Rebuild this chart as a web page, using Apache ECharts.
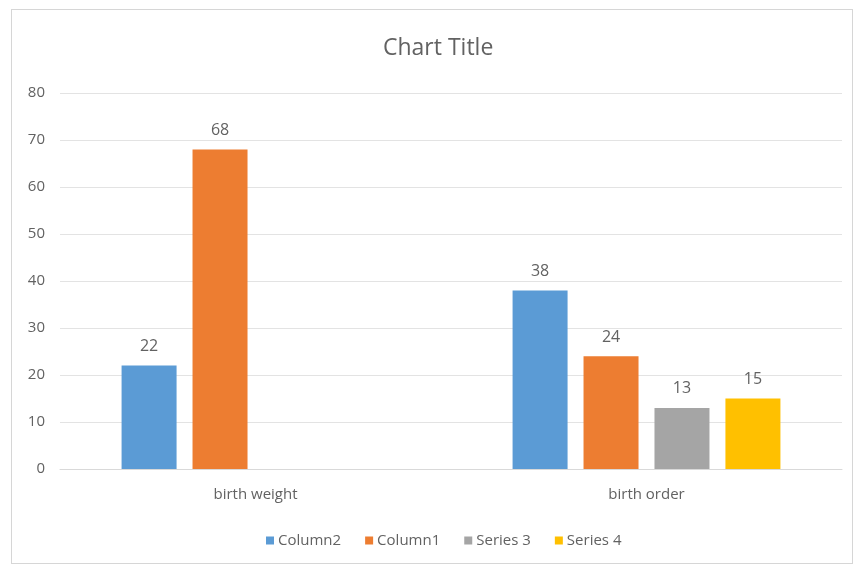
<!DOCTYPE html>
<html>
<head>
<meta charset="utf-8">
<script src="https://cdn.jsdelivr.net/npm/echarts@6/dist/echarts.min.js"></script>
<style>
  html, body { margin: 0; padding: 0; background: #ffffff; }
  #chart { position: absolute; left: 0; top: 0; width: 854px; height: 568px; }
  #frame { position: absolute; left: 11px; top: 9px; width: 840px; height: 553px;
           border: 1.5px solid #d6d6d6; pointer-events: none; }
</style>
</head>
<body>
<div id="chart"></div>
<div id="frame"></div>
<script>
// Categories and series values
const categories = ['birth weight', 'birth order'];
const seriesNames = ['Column2', 'Column1', 'Series 3', 'Series 4'];
const column2 = [22, 38];
const column1 = [68, 24];
const series3 = [null, 13];
const series4 = [null, 15];
const yTicks = { min: 0, max: 80, interval: 10 };

const palette = ['#5B9BD5', '#ED7D31', '#A5A5A5', '#FFC000'];
const valueSets = [column2, column1, series3, series4];
const font = '"Open Sans", Lato, sans-serif';
const textColor = '#626262';

const chart = echarts.init(document.getElementById('chart'));
chart.setOption({
  animation: false,
  backgroundColor: '#ffffff',
  title: {
    text: 'Chart Title',
    left: 378,
    top: 32,
    textStyle: { fontFamily: font, fontSize: 23, fontWeight: 'normal', color: textColor }
  },
  legend: {
    data: seriesNames,
    top: 528,
    left: 261,
    icon: 'rect',
    itemWidth: 8,
    itemHeight: 8,
    itemGap: 24,
    textStyle: { fontFamily: font, fontSize: 15, color: textColor, padding: [0, 0, 0, -1] }
  },
  grid: { left: 60, right: 12, top: 93, bottom: 99 },
  xAxis: {
    type: 'category',
    data: categories,
    axisTick: { show: false },
    axisLine: { lineStyle: { color: '#d9d9d9', width: 1 } },
    axisLabel: { fontFamily: font, fontSize: 15, color: textColor, margin: 18 }
  },
  yAxis: {
    type: 'value',
    min: yTicks.min,
    max: yTicks.max,
    interval: yTicks.interval,
    axisLine: { show: false },
    axisTick: { show: false },
    splitLine: { lineStyle: { color: '#e3e3e3', width: 1 } },
    axisLabel: { fontFamily: font, fontSize: 15, color: textColor, margin: 15 }
  },
  series: seriesNames.map((name, i) => ({
    name: name,
    type: 'bar',
    data: valueSets[i],
    barWidth: 55,
    barGap: '29%',
    itemStyle: { color: palette[i] },
    label: {
      show: true,
      position: 'top',
      distance: 11,
      fontFamily: font,
      fontSize: 16,
      color: textColor
    }
  }))
});
</script>
</body>
</html>
